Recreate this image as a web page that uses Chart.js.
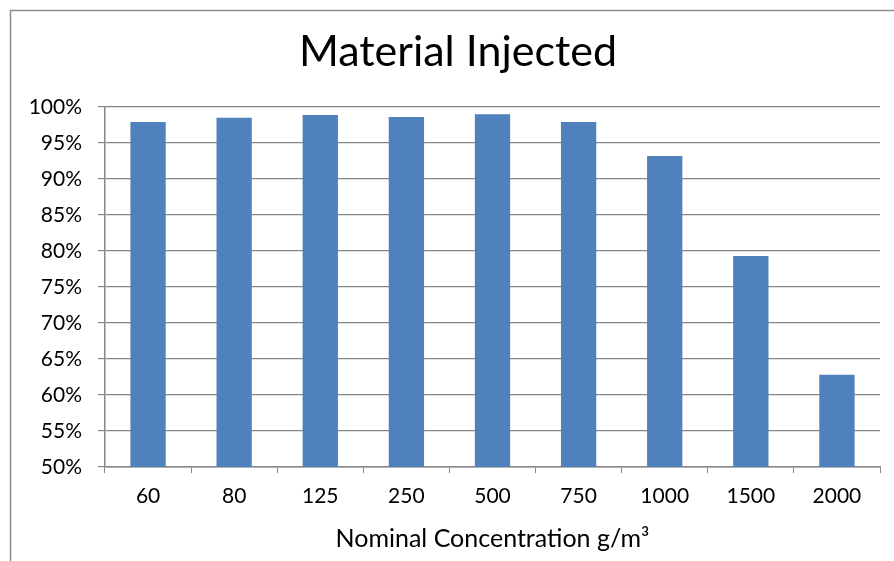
<!DOCTYPE html>
<html>
<head>
<meta charset="utf-8">
<title>Material Injected</title>
<script src="https://cdn.jsdelivr.net/npm/chart.js@4"></script>
<style>
  body { margin: 0; background: #fff; }
  canvas { display: block; }
</style>
</head>
<body>
<canvas id="chart" width="894" height="561"></canvas>
<script>
// values
const categories = ['60', '80', '125', '250', '500', '750', '1000', '1500', '2000'];
const injected = [97.9, 98.5, 98.9, 98.6, 99.0, 97.9, 93.2, 79.3, 62.8];
const yTicks = [50, 55, 60, 65, 70, 75, 80, 85, 90, 95, 100];
const chartTitle = 'Material Injected';

const FONT = 'Lato, Calibri, "Open Sans", sans-serif';

// grey frame of the pasted Excel object + the chart title (centred on the frame)
const framePlugin = {
    id: 'frame',
    beforeDraw(chart) {
        const ctx = chart.ctx;
        ctx.save();
        ctx.fillStyle = '#fff';
        ctx.fillRect(0, 0, chart.width, chart.height);
        ctx.strokeStyle = '#8c8c8c';
        ctx.lineWidth = 1.5;
        ctx.beginPath();
        ctx.moveTo(10.5, chart.height);
        ctx.lineTo(10.5, 10.5);
        ctx.lineTo(chart.width, 10.5);
        ctx.stroke();

        ctx.fillStyle = '#000';
        ctx.font = '43px ' + FONT;
        ctx.textAlign = 'center';
        ctx.textBaseline = 'middle';
        ctx.fillText(chartTitle, 458, 52);
        ctx.restore();
    }
};

new Chart(document.getElementById('chart'), {
    type: 'bar',
    data: {
        labels: categories,
        datasets: [{
            label: chartTitle,
            data: injected,
            backgroundColor: '#4f81bd',
            borderWidth: 0,
            barPercentage: 0.41,
            categoryPercentage: 1
        }]
    },
    options: {
        responsive: false,
        animation: false,
        layout: { padding: { left: 0, right: 14, top: 107, bottom: 0 } },
        plugins: {
            legend: { display: false },
            tooltip: { enabled: false },
            title: { display: false }
        },
        scales: {
            x: {
                grid: {
                    display: true,
                    drawOnChartArea: false,
                    drawTicks: true,
                    tickLength: 6,
                    color: '#868686',
                    offset: true
                },
                border: { color: '#868686', width: 1.5 },
                ticks: {
                    color: '#000',
                    font: { family: FONT, size: 21 },
                    padding: 11,
                    maxRotation: 0
                },
                title: {
                    display: true,
                    text: 'Nominal Concentration g/m\u00b3',
                    color: '#000',
                    font: { family: FONT, size: 25 },
                    padding: { top: 0, bottom: 7 }
                },
                afterFit(scale) { scale.height = 94; }
            },
            y: {
                min: 50,
                max: 100,
                afterBuildTicks(scale) {
                    scale.ticks = yTicks.map(v => ({ value: v }));
                },
                grid: {
                    color: '#878787',
                    lineWidth: 1.2,
                    tickLength: 7
                },
                border: { color: '#868686', width: 1.5 },
                ticks: {
                    color: '#000',
                    font: { family: FONT, size: 21 },
                    padding: 16,
                    callback: v => v + '%'
                },
                afterFit(scale) { scale.width = 105; }
            }
        }
    },
    plugins: [framePlugin]
});
</script>
</body>
</html>
